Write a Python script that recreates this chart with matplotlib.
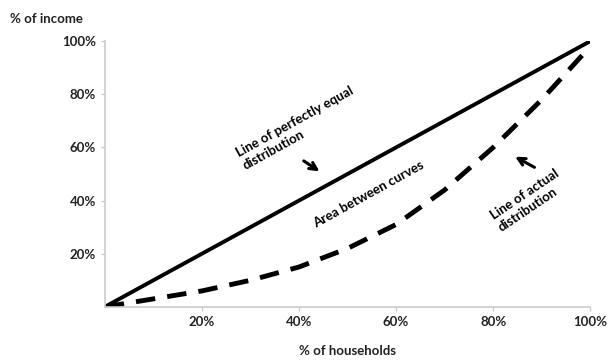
import matplotlib.pyplot as plt

# lorenz curve readings (percent)
households = [0, 10, 20, 30, 40, 50, 60, 70, 80, 90, 100]
equal_income = [0, 10, 20, 30, 40, 50, 60, 70, 80, 90, 100]
actual_income = [0, 3, 6, 10, 15, 22, 31, 44, 60, 78, 98]
tick_vals = [20, 40, 60, 80, 100]
tick_labels = ['20%', '40%', '60%', '80%', '100%']

plt.rcParams['font.family'] = ['Lato', 'DejaVu Sans']
plt.rcParams['font.weight'] = 'bold'

fig = plt.figure(figsize=(6.13, 3.64), dpi=100)
ax = fig.add_axes([0.171, 0.157, 0.792, 0.73])

ax.plot(households, equal_income, color='black', lw=2.8, solid_capstyle='butt')
ax.plot(households, actual_income, color='black', lw=3.5, ls=(0, (4, 2.5)))

ax.set_xlim(0, 100)
ax.set_ylim(0, 100)
ax.set_xticks(tick_vals)
ax.set_xticklabels(tick_labels)
ax.set_yticks(tick_vals)
ax.set_yticklabels(tick_labels)
ax.tick_params(labelsize=9.5, colors='#cccccc', labelcolor='#222222', length=3, width=1)
for s in ['top', 'right']:
    ax.spines[s].set_visible(False)
for s in ['left', 'bottom']:
    ax.spines[s].set_color('#cccccc')
    ax.spines[s].set_linewidth(1.2)

ax.set_xlabel('% of households', fontsize=9.5, fontweight='bold', color='#222222', labelpad=12)
fig.text(0.016, 0.948, '% of income', fontsize=9.5, fontweight='bold', color='#222222', va='center')

ax.text(39.8, 67.3, 'Line of perfectly equal\ndistribution', rotation=29, fontsize=9.5,
        fontweight='bold', ha='center', va='center', rotation_mode='anchor',
        multialignment='left')
ax.annotate('', xy=(44.7, 50.4), xytext=(40.5, 55.5),
            arrowprops=dict(arrowstyle='->', lw=2.2, color='black', mutation_scale=13))
ax.text(54.4, 42.5, 'Area between curves', rotation=29, fontsize=9.5,
        fontweight='bold', ha='center', va='center', rotation_mode='anchor')
ax.text(87.2, 40, 'Line of actual\ndistribution', rotation=34, fontsize=9.5,
        fontweight='bold', ha='center', va='center', rotation_mode='anchor',
        multialignment='left')
ax.annotate('', xy=(84, 57), xytext=(89, 52),
            arrowprops=dict(arrowstyle='->', lw=2.2, color='black', mutation_scale=13))

fig.savefig('out.png', dpi=100)
